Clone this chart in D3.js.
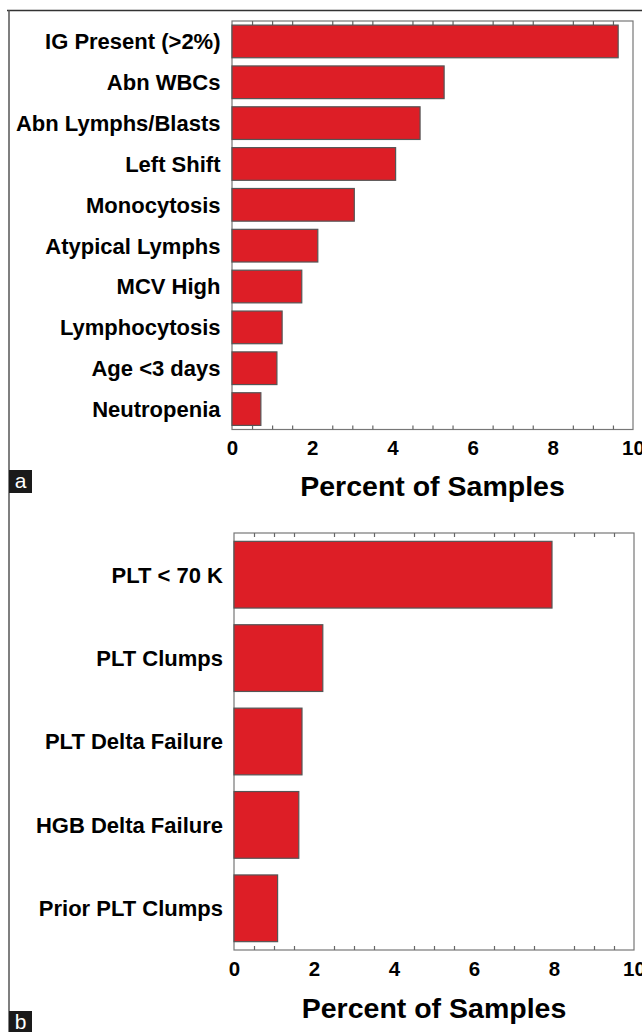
<!DOCTYPE html>
<html>
  <head>
    <meta charset="utf-8">
    <title>Percent of Samples</title>
    <style>
      body { margin: 0; background: #fff; }
      svg { display: block; font-family: "Liberation Sans", Arial, sans-serif; }
      .cat { font-size: 22px; font-weight: bold; fill: #000; }
      .tick-label text { font-size: 20.5px; font-weight: bold; fill: #000; }
      .xtitle { font-size: 28.5px; font-weight: bold; fill: #000; }
    </style>
  </head>
  <body>
    <div id="chart"></div>
    <script src="https://d3js.org/d3.v7.min.js"></script>
    <script>
      // panel a
      var categoriesA = ['IG Present (>2%)', 'Abn WBCs', 'Abn Lymphs/Blasts', 'Left Shift',
        'Monocytosis', 'Atypical Lymphs', 'MCV High', 'Lymphocytosis', 'Age <3 days', 'Neutropenia'];
      var valuesA = [9.63, 5.29, 4.69, 4.08, 3.05, 2.14, 1.74, 1.25, 1.12, 0.72];

      // panel b
      var categoriesB = ['PLT < 70 K', 'PLT Clumps', 'PLT Delta Failure', 'HGB Delta Failure', 'Prior PLT Clumps'];
      var valuesB = [7.95, 2.22, 1.70, 1.62, 1.09];

      var xTicks = [0, 2, 4, 6, 8, 10];
      var xMinorTicks = [0.5, 1, 1.5, 2.5, 3, 3.5, 4.5, 5, 5.5, 6.5, 7, 7.5, 8.5, 9, 9.5];
      var xTitle = 'Percent of Samples';

      var width = 642, height = 1032;

      var svg = d3.select('#chart').append('svg')
        .attr('width', width)
        .attr('height', height);

      // outer frame (top + left edge)
      svg.append('line').attr('x1', 7).attr('x2', width).attr('y1', 10.5).attr('y2', 10.5)
        .attr('stroke', '#333').attr('stroke-width', 1.5);
      svg.append('line').attr('x1', 9).attr('x2', 9).attr('y1', 10).attr('y2', height)
        .attr('stroke', '#555').attr('stroke-width', 1.5);

      function panel(cats, vals, box, letter, letterY) {
        var x = d3.scaleLinear().domain([0, 10]).range([box.left, box.right]);
        var y = d3.scaleBand().domain(cats).range([box.top, box.bottom])
          .paddingInner(box.pad).paddingOuter(box.pad / 2);

        var g = svg.append('g');

        // plot frame
        g.append('rect')
          .attr('x', box.left).attr('y', box.top)
          .attr('width', box.right - box.left).attr('height', box.bottom - box.top)
          .attr('fill', 'none').attr('stroke', '#777').attr('stroke-width', 1.2);

        // minor ticks, inward on top and bottom
        g.append('g')
          .attr('transform', 'translate(0,' + box.bottom + ')')
          .call(d3.axisBottom(x).tickValues(xMinorTicks).tickSize(-4).tickFormat(''))
          .call(function(a) {
            a.select('.domain').remove();
            a.selectAll('line').attr('stroke', '#666').attr('stroke-width', 1.2);
          });
        g.append('g')
          .attr('transform', 'translate(0,' + box.top + ')')
          .call(d3.axisTop(x).tickValues(xMinorTicks).tickSize(-4).tickFormat(''))
          .call(function(a) {
            a.select('.domain').remove();
            a.selectAll('line').attr('stroke', '#666').attr('stroke-width', 1.2);
          });

        // tick labels
        g.append('g')
          .attr('class', 'tick-label')
          .attr('transform', 'translate(0,' + box.bottom + ')')
          .call(d3.axisBottom(x).tickValues(xTicks).tickSize(0).tickPadding(box.tickPad))
          .call(function(a) {
            a.select('.domain').remove();
            a.selectAll('text').attr('font-family', null).attr('font-size', null);
          });

        // bars
        g.selectAll('.bar')
          .data(vals)
          .enter()
          .append('rect')
          .attr('class', 'bar')
          .attr('x', x(0))
          .attr('y', function(d, i) { return y(cats[i]); })
          .attr('width', function(d) { return x(d) - x(0); })
          .attr('height', y.bandwidth())
          .attr('fill', '#dd1e26')
          .attr('stroke', '#555')
          .attr('stroke-width', 1.2);

        // category labels
        g.selectAll('.cat')
          .data(cats)
          .enter()
          .append('text')
          .attr('class', 'cat')
          .attr('x', box.left - box.labelGap)
          .attr('y', function(d) { return y(d) + y.bandwidth() / 2; })
          .attr('dy', '0.36em')
          .attr('text-anchor', 'end')
          .text(function(d) { return d; });

        // x title
        g.append('text')
          .attr('class', 'xtitle')
          .attr('x', (box.left + box.right) / 2)
          .attr('y', box.titleY)
          .attr('text-anchor', 'middle')
          .text(xTitle);

        // panel letter
        var lg = svg.append('g');
        lg.append('rect').attr('x', 9).attr('y', letterY).attr('width', 23).attr('height', 23)
          .attr('fill', '#1a1a1a');
        lg.append('text').attr('x', 20.5).attr('y', letterY + 18)
          .attr('text-anchor', 'middle').attr('fill', '#fff')
          .attr('font-size', '21px').text(letter);
      }

      panel(categoriesA, valuesA,
        { left: 232, right: 633, top: 21, bottom: 429.5, pad: 0.2, labelGap: 11.5, tickPad: 11, titleY: 496 },
        'a', 470);
      panel(categoriesB, valuesB,
        { left: 234, right: 634, top: 533, bottom: 950, pad: 0.2, labelGap: 11, tickPad: 11, titleY: 1018 },
        'b', 1011);
    </script>
  </body>
</html>
